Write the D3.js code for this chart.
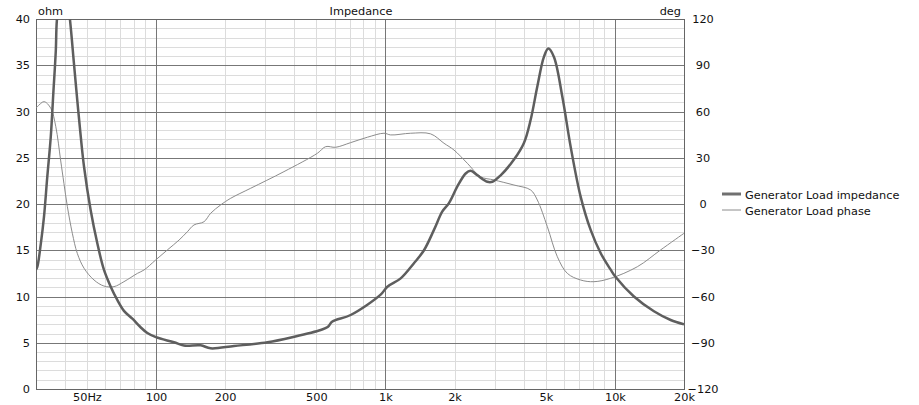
<!DOCTYPE html>
<html>
<head>
<meta charset="utf-8">
<script src="https://cdn.jsdelivr.net/npm/d3@7"></script>
<style>
  body { margin: 0; background: #fff; }
  svg { display: block; font-family: "DejaVu Sans", sans-serif; font-size: 11.3px; }
</style>
</head>
<body>
<div id="chart"></div>
<script>
// impedance curve
var impFreq = [30, 30.4, 31.5, 32.5, 33.6, 34.8, 35.7, 36.6, 37.0, 39.5, 42.2, 43.9, 45.4, 47, 48.6, 51.9, 55.5, 59.3, 63.5, 67.9,
  72.5, 78.9, 85.5, 91.7, 100, 119.8, 132.4, 156.6, 173, 219, 306, 400, 522, 560, 587, 705, 953, 1019, 1165, 1331, 1472,
  1627, 1770, 1891, 2058, 2236, 2351, 2515, 2780, 2923, 3177, 3631, 4013, 4293, 4590, 4904, 5126, 5423, 5900, 6412, 7088,
  7838, 8664, 9579, 10072, 12100, 14790, 17490, 20000];
var impOhm = [12.9, 13.2, 15.75, 18.6, 22.95, 27.3, 32.0, 36.6, 39.9, 46, 39.9, 35.2, 31.2, 27.3, 24.0, 19.35, 15.75, 12.9, 11.06, 9.6,
  8.45, 7.6, 6.7, 6.05, 5.6, 5.05, 4.7, 4.72, 4.4, 4.65, 5.05, 5.65, 6.38, 6.7, 7.3, 8.0, 10.2, 11.06, 11.96, 13.6, 15.0,
  17.2, 19.2, 20.1, 21.9, 23.3, 23.6, 23.1, 22.4, 22.4, 23.1, 24.8, 26.6, 29.1, 32.7, 35.9, 36.8, 35.9, 31.6, 26.2, 20.8,
  17.2, 14.7, 12.9, 12.1, 10.0, 8.4, 7.46, 7.0];

// phase curve
var phFreq = [30, 30.4, 32.5, 34.8, 36.6, 38.4, 39.7, 41.1, 43.2, 45.4, 48.6, 53.7, 59.3, 65.6, 72.5, 83, 88.7, 99.7, 112.1, 126,
  137, 146.4, 161.9, 173.1, 191.4, 211.6, 258.6, 361.2, 505, 548.8, 606.7, 705, 834, 985, 1054, 1288, 1573, 1799, 1989, 2275,
  2599, 2970, 3631, 4293, 4590, 5076, 5611, 6203, 7088, 8099, 9579, 12520, 15815, 20000];
var phDeg = [62.5, 63.1, 66.4, 62.1, 50.1, 28.5, 13.4, -1.7, -19, -32, -41.7, -49.3, -53.2, -53.6, -50.4, -45, -42.8, -36.3, -29.8, -23.4,
  -18, -13.6, -11.5, -6, -0.6, 3.7, 10.2, 21, 32.9, 37.2, 36.8, 39.8, 43.3, 45.9, 44.8, 45.9, 45.5, 39.4, 35, 26.4,
  17.7, 15.6, 12.3, 9.1, 2.6, -14.7, -34.2, -45, -49.3, -50.4, -48.2, -40.7, -29.8, -19];

var xTickVals = [50, 100, 200, 500, 1000, 2000, 5000, 10000, 20000];
var xTickText = ["50Hz", "100", "200", "500", "1k", "2k", "5k", "10k", "20k"];
var leftTicks = [0, 5, 10, 15, 20, 25, 30, 35, 40];
var rightTicks = [-120, -90, -60, -30, 0, 30, 60, 90, 120];
var seriesNames = ["Generator Load impedance", "Generator Load phase"];

var W = 919, H = 405;
var plot = {left: 36, right: 684, top: 19, bottom: 389};
var fontSize = "11.3px";

var x = d3.scaleLog().domain([30, 20000]).range([plot.left, plot.right]);
var y = d3.scaleLinear().domain([0, 40]).range([plot.bottom, plot.top]);
var y2 = d3.scaleLinear().domain([-120, 120]).range([plot.bottom, plot.top]);

var svg = d3.select("#chart").append("svg")
  .attr("width", W).attr("height", H);

svg.append("defs").append("clipPath").attr("id", "clip")
  .append("rect")
  .attr("x", plot.left).attr("y", plot.top)
  .attr("width", plot.right - plot.left).attr("height", plot.bottom - plot.top);

// grid: minor first, major on top
var minorF = [];
[10, 100, 1000, 10000].forEach(function(d) {
  for (var k = 2; k <= 9; k++) {
    var f = d * k;
    if (f > 30 && f < 20000) minorF.push(f);
  }
});
var majorF = [100, 1000, 10000];
var minorY = d3.range(1, 40).filter(function(v) { return v % 5 != 0; });
var majorY = [5, 10, 15, 20, 25, 30, 35];

var grid = svg.append("g").attr("shape-rendering", "crispEdges");
grid.selectAll(".vmin").data(minorF).enter().append("line")
  .attr("x1", function(d) { return Math.round(x(d)) + 0.5; })
  .attr("x2", function(d) { return Math.round(x(d)) + 0.5; })
  .attr("y1", plot.top).attr("y2", plot.bottom)
  .attr("stroke", "#dcdcdc");
grid.selectAll(".hmin").data(minorY).enter().append("line")
  .attr("x1", plot.left).attr("x2", plot.right)
  .attr("y1", function(d) { return Math.round(y(d)) + 0.5; })
  .attr("y2", function(d) { return Math.round(y(d)) + 0.5; })
  .attr("stroke", "#dcdcdc");
grid.selectAll(".vmaj").data(majorF).enter().append("line")
  .attr("x1", function(d) { return Math.round(x(d)) + 0.5; })
  .attr("x2", function(d) { return Math.round(x(d)) + 0.5; })
  .attr("y1", plot.top).attr("y2", plot.bottom)
  .attr("stroke", "#777");
grid.selectAll(".hmaj").data(majorY).enter().append("line")
  .attr("x1", plot.left).attr("x2", plot.right)
  .attr("y1", function(d) { return Math.round(y(d)) + 0.5; })
  .attr("y2", function(d) { return Math.round(y(d)) + 0.5; })
  .attr("stroke", "#777");
grid.append("rect")
  .attr("x", plot.left + 0.5).attr("y", plot.top + 0.5)
  .attr("width", plot.right - plot.left).attr("height", plot.bottom - plot.top)
  .attr("fill", "none").attr("stroke", "#666");

// curves
var impData = impFreq.map(function(f, i) { return [f, impOhm[i]]; });
var phData = phFreq.map(function(f, i) { return [f, phDeg[i]]; });

var curves = svg.append("g").attr("clip-path", "url(#clip)");
curves.append("path")
  .datum(phData)
  .attr("fill", "none").attr("stroke", "#8c8c8c").attr("stroke-width", 1)
  .attr("d", d3.line().curve(d3.curveCatmullRom.alpha(0.5))
    .x(function(d) { return x(d[0]); })
    .y(function(d) { return y2(d[1]); }));
curves.append("path")
  .datum(impData)
  .attr("fill", "none").attr("stroke", "#5e5e5e").attr("stroke-width", 2.5)
  .attr("d", d3.line().curve(d3.curveCatmullRom.alpha(0.5))
    .x(function(d) { return x(d[0]); })
    .y(function(d) { return y(d[1]); }));

// axes
var xAxis = d3.axisBottom(x).tickValues(xTickVals)
  .tickFormat(function(d, i) { return xTickText[i]; }).tickSize(0).tickPadding(4);
var gx = svg.append("g").attr("transform", "translate(0," + plot.bottom + ")").call(xAxis);

var gl = svg.append("g").attr("transform", "translate(" + plot.left + ",0)")
  .call(d3.axisLeft(y).tickValues(leftTicks).tickSize(0).tickPadding(6));

var gr = svg.append("g").attr("transform", "translate(" + (plot.right + 19) + ",0)")
  .call(d3.axisRight(y2).tickValues(rightTicks).tickSize(0).tickPadding(0));
gr.selectAll("text").attr("text-anchor", "middle");

[gx, gl, gr].forEach(function(g) {
  g.select(".domain").remove();
  g.selectAll("text").attr("fill", "#111").style("font-size", fontSize)
    .style("font-family", "'DejaVu Sans', sans-serif");
});

// titles
svg.append("text").attr("x", (plot.left + plot.right) / 2 + 1).attr("y", 15)
  .attr("text-anchor", "middle").attr("fill", "#111").text("Impedance");
svg.append("text").attr("x", plot.left + 2).attr("y", 15)
  .attr("fill", "#111").text("ohm");
svg.append("text").attr("x", plot.right - 3).attr("y", 15)
  .attr("text-anchor", "end").attr("fill", "#111").text("deg");

// legend
var legend = svg.append("g").attr("transform", "translate(722,194)");
legend.selectAll("line").data(seriesNames).enter().append("line")
  .attr("x1", 0).attr("x2", 19)
  .attr("y1", function(d, i) { return i * 16; })
  .attr("y2", function(d, i) { return i * 16; })
  .attr("stroke", function(d, i) { return i == 0 ? "#707070" : "#8c8c8c"; })
  .attr("stroke-width", function(d, i) { return i == 0 ? 3 : 1; });
legend.selectAll("text").data(seriesNames).enter().append("text")
  .attr("x", 23)
  .attr("y", function(d, i) { return i * 16 + 4.5; })
  .attr("fill", "#111")
  .text(function(d) { return d; });
</script>
</body>
</html>
